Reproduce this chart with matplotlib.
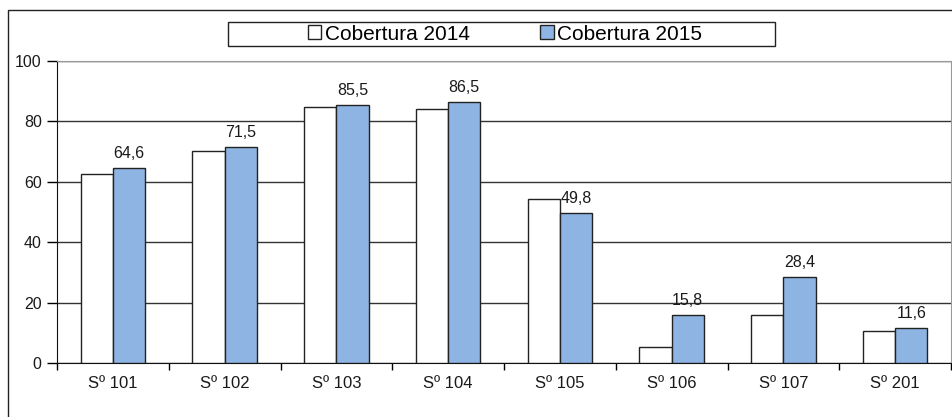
import numpy as np
import matplotlib.pyplot as plt
from matplotlib.patches import Rectangle

plt.rcParams['font.family'] = ['Liberation Sans', 'DejaVu Sans']

# data
categories = ["Sº 101", "Sº 102", "Sº 103", "Sº 104", "Sº 105", "Sº 106", "Sº 107", "Sº 201"]
cob_2014 = [62.5, 70.2, 84.8, 84.1, 54.3, 5.2, 15.9, 10.6]
cob_2015 = [64.6, 71.5, 85.5, 86.5, 49.8, 15.8, 28.4, 11.6]

fig = plt.figure(figsize=(9.53, 4.17), dpi=100)
ax = fig.add_axes([57 / 953, 1 - 363 / 417, (951 - 57) / 953, (363 - 61) / 417])

x = np.arange(len(categories))
w = 0.288
blue = '#8DB4E2'
ax.bar(x - w / 2, cob_2014, w, color='white', edgecolor='#222222', linewidth=1, label='Cobertura 2014', zorder=3)
ax.bar(x + w / 2, cob_2015, w, color=blue, edgecolor='#222222', linewidth=1, label='Cobertura 2015', zorder=3)

for xi, v in zip(x, cob_2015):
    ax.annotate(f"{v:.1f}".replace('.', ','), (xi + w / 2, v), xytext=(0, 5),
                textcoords='offset points', ha='center', va='bottom', fontsize=11.5, color='#1a1a1a')

ax.set_xlim(-0.5, len(categories) - 0.5)
ax.set_ylim(0, 100)
ax.set_yticks(np.arange(0, 101, 20))
ax.tick_params(axis='y', direction='out', length=7, width=1, labelsize=11.5, labelcolor='#1a1a1a', pad=4)

ax.set_xticks(x)
ax.set_xticklabels(categories, fontsize=12, color='#1a1a1a')
ax.tick_params(axis='x', which='major', length=0, pad=9)
ax.set_xticks(np.arange(-0.5, len(categories), 1), minor=True)
ax.tick_params(axis='x', which='minor', direction='out', length=5, width=1)

ax.yaxis.grid(True, color='#333333', linewidth=1)
ax.set_axisbelow(True)
ax.spines['left'].set_color('#111111')
ax.spines['bottom'].set_color('#111111')
ax.spines['top'].set_color('#999999')
ax.spines['right'].set_color('#999999')

# outer chart frame
fig.patches.append(Rectangle((8 / 953, -0.5), 1.2, 1.5 - 10 / 417, transform=fig.transFigure,
                             fill=False, edgecolor='#222222', linewidth=1))

# legend box
fig.patches.append(Rectangle((228 / 953, 1 - 46 / 417), (775 - 228) / 953, 24 / 417, transform=fig.transFigure,
                             fill=False, edgecolor='#222222', linewidth=1))
fig.legend(loc='center', bbox_to_anchor=(505 / 953, 1 - 34 / 417), ncol=2, frameon=False,
           fontsize=15, handlelength=0.65, handleheight=0.65, handletextpad=0.15, columnspacing=3.4)

fig.savefig('out.png', dpi=100)
